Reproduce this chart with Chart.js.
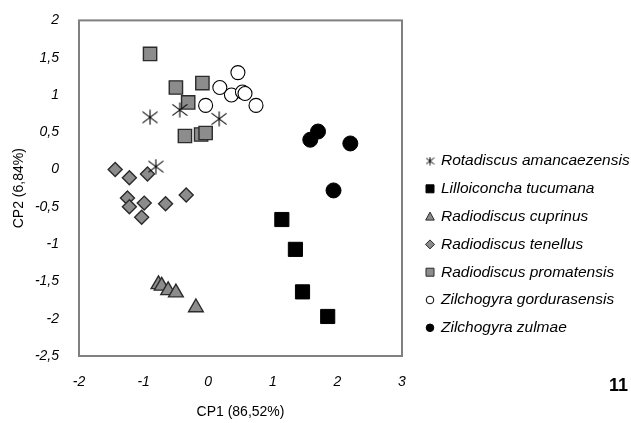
<!DOCTYPE html>
<html>
<head>
<meta charset="utf-8">
<script src="https://cdn.jsdelivr.net/npm/chart.js@4/dist/chart.umd.min.js"></script>
<style>
  html, body { margin: 0; padding: 0; background: #fff; }
  #wrap { width: 631px; height: 423px; }
</style>
</head>
<body>
<div id="wrap"><canvas id="pca" width="631" height="423"></canvas></div>
<script>
// PCA scores (CP1, CP2)
const speciesNames = [
  'Rotadiscus amancaezensis',
  'Lilloiconcha tucumana',
  'Radiodiscus cuprinus',
  'Radiodiscus tenellus',
  'Radiodiscus promatensis',
  'Zilchogyra gordurasensis',
  'Zilchogyra zulmae'
];
const rotadiscusX = [-0.90, -0.44, 0.17, -0.81];
const rotadiscusY = [0.70, 0.80, 0.68, 0.04];
const lilloX = [1.14, 1.35, 1.46, 1.85];
const lilloY = [-0.67, -1.07, -1.64, -1.97];
const cuprinusX = [-0.77, -0.72, -0.62, -0.50, -0.19];
const cuprinusY = [-1.54, -1.56, -1.62, -1.65, -1.85];
const tenellusX = [-1.44, -1.22, -0.94, -0.34, -1.25, -1.22, -0.99, -0.66, -1.03];
const tenellusY = [0.00, -0.11, -0.06, -0.34, -0.38, -0.50, -0.45, -0.46, -0.64];
const promatensisX = [-0.90, -0.50, -0.09, -0.31, -0.36, -0.11, -0.04];
const promatensisY = [1.55, 1.10, 1.16, 0.90, 0.45, 0.47, 0.49];
const gordurasensisX = [0.46, 0.18, 0.36, 0.53, 0.57, 0.74, -0.04];
const gordurasensisY = [1.30, 1.10, 1.00, 1.04, 1.02, 0.86, 0.86];
const zulmaeX = [1.70, 1.58, 2.20, 1.94];
const zulmaeY = [0.51, 0.40, 0.35, -0.28];

const xTickValues = [-2, -1, 0, 1, 2, 3];
const yTickValues = [-2.5, -2, -1.5, -1, -0.5, 0, 0.5, 1, 1.5, 2];
const xTitle = 'CP1 (86,52%)';
const yTitle = 'CP2 (6,84%)';
const figureNumber = '11';

const GRAY = '#8c8c8c';
const DARK = '#2b2b2b';
const FONT = "'Liberation Sans', Arial, sans-serif";

function toPoints(xs, ys) {
  return xs.map((x, i) => ({ x: x, y: ys[i] }));
}

// six-armed asterisk (X with a vertical bar), drawn once into a small canvas
function makeAsterisk(size, lw) {
  const c = document.createElement('canvas');
  c.width = size;
  c.height = size;
  const g = c.getContext('2d');
  g.strokeStyle = '#000';
  g.lineWidth = lw;
  const m = size / 2;
  const r = size / 2 - 0.5;
  g.beginPath();
  g.moveTo(m, m - r); g.lineTo(m, m + r);
  g.moveTo(m - r, m - r * 0.75); g.lineTo(m + r, m + r * 0.75);
  g.moveTo(m - r, m + r * 0.75); g.lineTo(m + r, m - r * 0.75);
  g.stroke();
  return c;
}
const bigStar = makeAsterisk(16, 1.1);

const datasets = [
  { label: speciesNames[0], data: toPoints(rotadiscusX, rotadiscusY),
    pointStyle: bigStar, pointRadius: 8, backgroundColor: '#000', borderColor: '#000' },
  { label: speciesNames[1], data: toPoints(lilloX, lilloY),
    pointStyle: 'rect', pointRadius: 10, backgroundColor: '#000', borderColor: '#000', borderWidth: 1 },
  { label: speciesNames[2], data: toPoints(cuprinusX, cuprinusY),
    pointStyle: 'triangle', pointRadius: 8.5, backgroundColor: GRAY, borderColor: DARK, borderWidth: 1.4 },
  { label: speciesNames[3], data: toPoints(tenellusX, tenellusY),
    pointStyle: 'rectRot', pointRadius: 7, backgroundColor: GRAY, borderColor: DARK, borderWidth: 1.4 },
  { label: speciesNames[4], data: toPoints(promatensisX, promatensisY),
    pointStyle: 'rect', pointRadius: 9.4, backgroundColor: GRAY, borderColor: DARK, borderWidth: 1.4 },
  { label: speciesNames[5], data: toPoints(gordurasensisX, gordurasensisY),
    pointStyle: 'circle', pointRadius: 7, backgroundColor: '#fff', borderColor: '#000', borderWidth: 1.1 },
  { label: speciesNames[6], data: toPoints(zulmaeX, zulmaeY),
    pointStyle: 'circle', pointRadius: 7.5, backgroundColor: '#000', borderColor: '#000', borderWidth: 1 }
];

// frame around the plot area, custom legend and the figure number
const framePlugin = {
  id: 'frame',
  beforeDatasetsDraw(chart) {
    const { ctx, chartArea: a } = chart;
    ctx.save();
    ctx.strokeStyle = '#808080';
    ctx.lineWidth = 2;
    ctx.strokeRect(a.left, a.top, a.right - a.left, a.bottom - a.top);
    ctx.restore();
  },
  afterDraw(chart) {
    const ctx = chart.ctx;
    const mx = 430, tx = 441, y0 = 161, step = 27.8;
    ctx.save();
    ctx.font = 'italic 15.5px ' + FONT;
    ctx.textBaseline = 'middle';
    ctx.fillStyle = '#000';
    chart.data.datasets.forEach((ds, i) => {
      const y = y0 + i * step;
      ctx.save();
      ctx.fillStyle = ds.backgroundColor;
      ctx.strokeStyle = ds.borderColor;
      ctx.lineWidth = 1;
      ctx.beginPath();
      if (ds.pointStyle === bigStar) {
        ctx.drawImage(makeAsterisk(9, 1), mx - 4.5, y - 4.5);
      } else if (ds.pointStyle === 'rect') {
        ctx.rect(mx - 4, y - 4, 8, 8);
        ctx.fill(); ctx.stroke();
      } else if (ds.pointStyle === 'triangle') {
        ctx.moveTo(mx, y - 4.5); ctx.lineTo(mx + 4.3, y + 3.5); ctx.lineTo(mx - 4.3, y + 3.5);
        ctx.closePath(); ctx.fill(); ctx.stroke();
      } else if (ds.pointStyle === 'rectRot') {
        ctx.moveTo(mx, y - 4.5); ctx.lineTo(mx + 4.5, y); ctx.lineTo(mx, y + 4.5); ctx.lineTo(mx - 4.5, y);
        ctx.closePath(); ctx.fill(); ctx.stroke();
      } else {
        ctx.arc(mx, y, 3.8, 0, Math.PI * 2);
        ctx.fill(); ctx.stroke();
      }
      ctx.restore();
      ctx.fillText(ds.label, tx, y);
    });
    ctx.font = 'bold 18px ' + FONT;
    ctx.textAlign = 'right';
    ctx.fillText(figureNumber, 628, 386);
    ctx.restore();
  }
};

const fmt = v => String(v).replace('.', ',');

new Chart(document.getElementById('pca'), {
  type: 'scatter',
  data: { datasets: datasets },
  options: {
    responsive: false,
    animation: false,
    layout: { padding: { left: 0, top: 16, right: 229, bottom: 0 } },
    plugins: { legend: { display: false }, tooltip: { enabled: false } },
    scales: {
      x: {
        type: 'linear', min: -2, max: 3,
        grid: { display: false },
        border: { display: false },
        afterFit(s) { s.height = 67; },
        afterBuildTicks(s) { s.ticks = xTickValues.map(v => ({ value: v })); },
        ticks: {
          padding: 10, color: '#000',
          font: { family: FONT, size: 14, style: 'italic' },
          callback: fmt
        },
        title: {
          display: true, text: xTitle, color: '#000',
          font: { family: FONT, size: 14 },
          padding: { top: 0, bottom: 2 }
        }
      },
      y: {
        type: 'linear', min: -2.5, max: 2,
        grid: { display: false },
        border: { display: false },
        afterFit(s) { s.width = 79; },
        afterBuildTicks(s) { s.ticks = yTickValues.map(v => ({ value: v })); },
        ticks: {
          padding: 12, color: '#000',
          font: { family: FONT, size: 14, style: 'italic' },
          callback: fmt
        },
        title: {
          display: true, text: yTitle, color: '#000',
          font: { family: FONT, size: 14 },
          padding: { top: 11, bottom: 0 }
        }
      }
    }
  },
  plugins: [framePlugin]
});
</script>
</body>
</html>
